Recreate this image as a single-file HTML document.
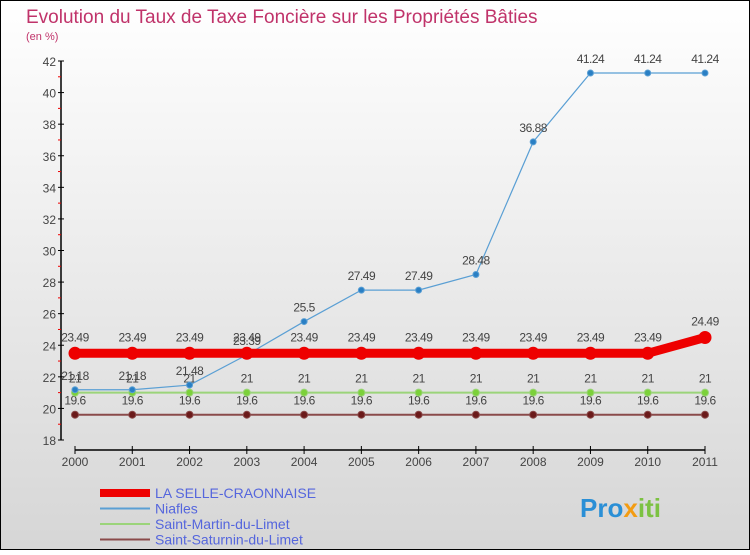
<!DOCTYPE html>
<html><head><meta charset="utf-8"><style>
body{margin:0}
svg text{font-family:"Liberation Sans",sans-serif}
</style></head><body>
<svg width="750" height="550" viewBox="0 0 750 550" xmlns="http://www.w3.org/2000/svg">
<defs><linearGradient id="bg" x1="0" y1="0" x2="0" y2="1"><stop offset="0" stop-color="#ffffff"/><stop offset="1" stop-color="#d6d6d6"/></linearGradient></defs>
<rect x="0.5" y="0.5" width="749" height="549" fill="url(#bg)" stroke="#000"/>
<text x="26" y="23" font-size="19" fill="#c0336a">Evolution du Taux de Taxe Foncière sur les Propriétés Bâties</text>
<text x="26" y="40" font-size="11" fill="#c0336a">(en %)</text>
<g id="axes"></g><g id="series"></g><g id="legend"></g>
<text x="580" y="517" font-size="26" font-weight="bold" fill="#2a8fd6">Pro<tspan fill="#f39c12">x</tspan><tspan fill="#7cc242">iti</tspan></text>
</svg>
<script>
const years=[2000,2001,2002,2003,2004,2005,2006,2007,2008,2009,2010,2011];
const laSelle=[23.49,23.49,23.49,23.49,23.49,23.49,23.49,23.49,23.49,23.49,23.49,24.49];
const niafles=[21.18,21.18,21.48,23.39,25.5,27.49,27.49,28.48,36.88,41.24,41.24,41.24];
const stMartin=[21,21,21,21,21,21,21,21,21,21,21,21];
const stSaturnin=[19.6,19.6,19.6,19.6,19.6,19.6,19.6,19.6,19.6,19.6,19.6,19.6];
const yTicks=[18,20,22,24,26,28,30,32,34,36,38,40,42];
const NS="http://www.w3.org/2000/svg";
const x=i=>75+i*(630/11);
const y=v=>440-(v-18)*(379/24);
function mk(tag,attrs,parent,txt){const e=document.createElementNS(NS,tag);for(const k in attrs)e.setAttribute(k,attrs[k]);if(txt!==undefined)e.textContent=txt;parent.appendChild(e);return e;}
const ax=document.getElementById('axes');
let e=mk('line',{x1:61,y1:y(42),x2:61,y2:440,stroke:'#000','stroke-width':1.5},ax);


yTicks.forEach(v=>{
 let t=mk('line',{x1:58,x2:64,y1:y(v),y2:y(v),stroke:'#000'},ax);
 
 
 let l=mk('text',{x:56,y:y(v)+5,'font-size':12,'text-anchor':'end',fill:'#444'},ax,String(v));
 
 
 if(v<42){let m=mk('line',{x1:58,x2:61,y1:y(v+1),y2:y(v+1),stroke:'#e00'},ax);
 
 }
});
e=mk('line',{x1:75,y1:450,x2:705,y2:450,stroke:'#000','stroke-width':1.5},ax);


years.forEach((yr,i)=>{
 let t=mk('line',{x1:x(i),x2:x(i),y1:446,y2:454,stroke:'#000'},ax);
 
 
 let l=mk('text',{x:x(i),y:466,'font-size':12,'text-anchor':'middle',fill:'#444'},ax,String(yr));
 
 
});
const sg=document.getElementById('series');
function series(name,vals,color,w,r,mc,lblOff){
 const g=mk('g',{},sg);
 
 
 let p=mk('polyline',{points:vals.map((v,i)=>x(i)+','+y(v)).join(' '),fill:'none',stroke:color,'stroke-width':w},g);
 
 
 vals.forEach((v,i)=>{
  let c=mk('circle',{cx:x(i),cy:y(v),r:r,fill:mc,stroke:color,'stroke-width':1},g);
  
  
  let t=mk('text',{x:x(i),y:y(v)-lblOff,'font-size':12,'text-anchor':'middle',fill:'#444','letter-spacing':'-0.5'},g,String(v));
  
  
 });
}
series('saint-saturnin',stSaturnin,'#8a4a4a',2,3.5,'#6b1a1a',10);
series('saint-martin',stMartin,'#9bd47a',2,3.5,'#7cd13a',10);
series('niafles',niafles,'#5a9fd4',1.2,3,'#2a7fc4',10);
series('la-selle',laSelle,'#ee0000',9,6,'#ee0000',12);
const lg=document.getElementById('legend');
const leg=[['LA SELLE-CRAONNAISE','#ee0000',8],['Niafles','#5a9fd4',2],['Saint-Martin-du-Limet','#9bd47a',2],['Saint-Saturnin-du-Limet','#8a4a4a',2]];
leg.forEach((d,i)=>{
 const yy=493+i*15.5;
 let l=mk('line',{x1:100,x2:150,y1:yy,y2:yy,stroke:d[1],'stroke-width':d[2]},lg);
 
 
 let t=mk('text',{x:155,y:yy+5,'font-size':14,fill:'#5566dd'},lg,d[0]);
 
 
});
</script>
</body></html>
